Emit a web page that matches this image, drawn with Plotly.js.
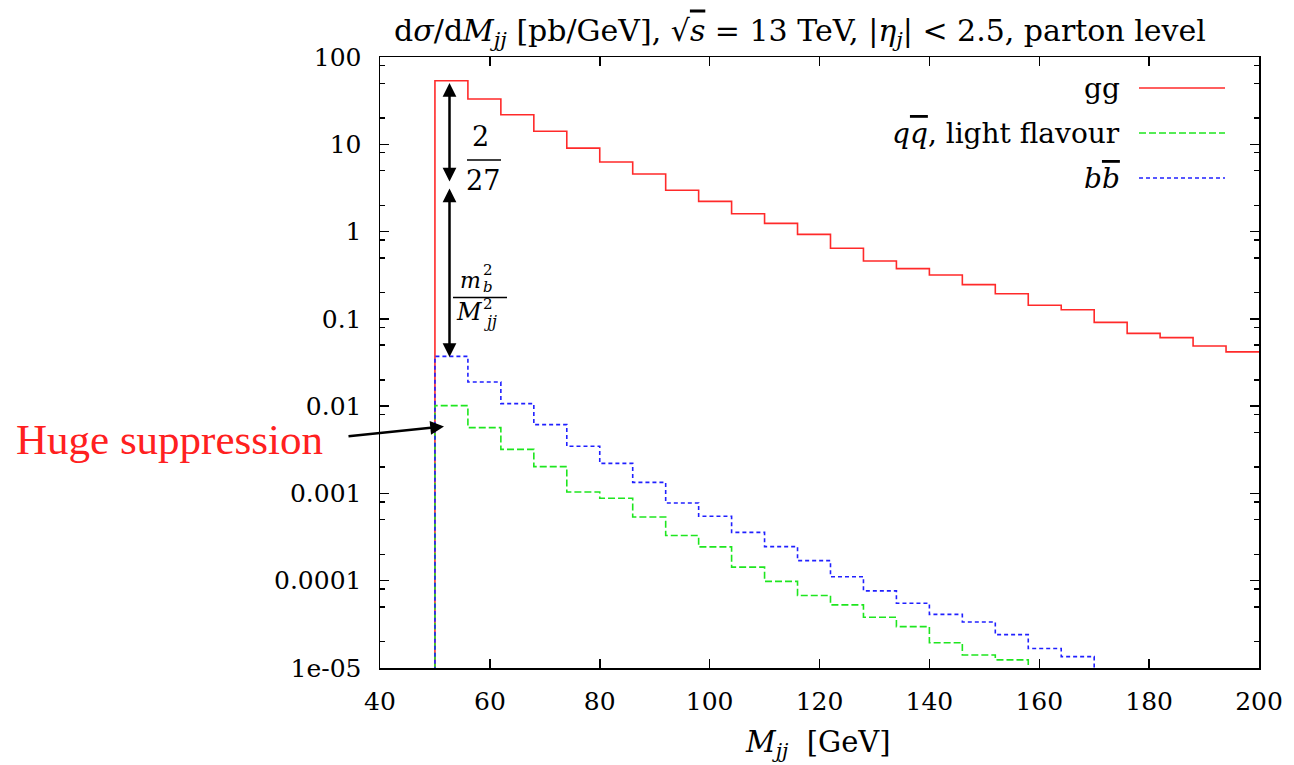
<!DOCTYPE html>
<html>
<head>
<meta charset="utf-8">
<script src="https://cdn.plot.ly/plotly-3.0.1.min.js"></script>
<style>html,body{margin:0;padding:0;background:#fff;}#chart{width:1294px;height:765px;}</style>
</head>
<body>
<div id="chart"></div>
<script>
// ---- data ----
const binEdges = [50,56,62,68,74,80,86,92,98,104,110,116,122,128,134,140,146,152,158,164,170,176,182,188,194,200];
const ggValues = [53.5,33,21.8,14.1,9.04,6.27,4.57,2.97,2.22,1.60,1.24,0.929,0.643,0.460,0.376,0.318,0.247,0.194,0.143,0.127,0.0912,0.0682,0.0609,0.0489,0.0418];
const qqValues = [0.01014,0.00568,0.0032,0.00203,0.00104,0.00088,0.000538,0.000329,0.000244,0.000143,9.84e-5,6.76e-5,5.28e-5,3.81e-5,2.98e-5,1.95e-5,1.41e-5,1.24e-5];
const bbValues = [0.0372,0.0189,0.0107,0.00614,0.00347,0.00221,0.00134,0.000778,0.000547,0.000358,0.000246,0.000170,0.000111,7.64e-5,5.51e-5,4.12e-5,3.37e-5,2.41e-5,1.67e-5,1.35e-5];
const seriesNames = ['gg', 'qq̅, light flavour', 'bb̅'];
const xTickVals = [40,60,80,100,120,140,160,180,200];
const yTickVals = [1e-5,1e-4,1e-3,1e-2,1e-1,1,10,100];
const yTickText = ['1e-05','0.0001','0.001','0.01','0.1','1','10','100'];

// ---- helpers ----
const FLOOR = 1e-8; // below visible range: histogram outline drops to the axis
function stepXY(vals){
  const x=[binEdges[0]], y=[FLOOR];
  for(let i=0;i<vals.length;i++){ x.push(binEdges[i], binEdges[i+1]); y.push(vals[i], vals[i]); }
  if(vals.length < binEdges.length-1){ x.push(binEdges[vals.length]); y.push(FLOOR); }
  return {x, y};
}
const L=380, R=35, T=57, B=97, W=1294, H=765;
const PW=W-L-R, PH=H-T-B;
const px = p => (p-L)/PW;
const py = p => (H-B-p)/PH;
const FONT = 'DejaVu Serif';
const TFONT = 'Liberation Serif';

const minorVals=[];
for(let e=-5;e<2;e++){ [2,5,8].forEach(m=>minorVals.push(m*Math.pow(10,e))); }

const RED='#ff2a2a', GREEN='#1ee61e', BLUE='#2020ff';
const gg = stepXY(ggValues), qq = stepXY(qqValues), bb = stepXY(bbValues);
const traces = [
  {x:gg.x, y:gg.y, mode:'lines', name:seriesNames[0], line:{color:RED, width:1.6}, showlegend:false},
  {x:qq.x, y:qq.y, mode:'lines', name:seriesNames[1], line:{color:GREEN, width:1.6, dash:'7px,3px'}, showlegend:false},
  {x:bb.x, y:bb.y, mode:'lines', name:seriesNames[2], line:{color:BLUE, width:1.6, dash:'4px,3px'}, showlegend:false}
];

const legendY=[88,133,178];
const legendColors=[RED,GREEN,BLUE];
const legendDash=['solid','7px,3px','4px,3px'];
const legendText=['gg','<i>q</i><span style="text-decoration:overline"><i>q</i></span>, light flavour','<i>b</i><span style="text-decoration:overline"><i>b</i></span>'];

const annotations=[];
const shapes=[];
function txt(x,y,text,size,opts){
  annotations.push(Object.assign({xref:'paper',yref:'paper',x:px(x),y:py(y),xanchor:'center',yanchor:'middle',showarrow:false,text:text,font:{family:FONT,size:size,color:'#000'}},opts||{}));
}
legendY.forEach((yy,i)=>{
  txt(1122,yy,legendText[i],28,{xanchor:'right'});
  shapes.push({type:'line',xref:'paper',yref:'paper',x0:px(1139),x1:px(1225),y0:py(yy),y1:py(yy),line:{color:legendColors[i],width:1.6,dash:legendDash[i]}});
});
// double arrows
annotations.push({xref:'paper',yref:'paper',x:px(449.5),y:py(83),ax:0,ay:100,text:'',showarrow:true,arrowhead:2,startarrowhead:2,arrowside:'end+start',arrowwidth:2.5,arrowsize:1.1,startarrowsize:1.1,arrowcolor:'#000'});
annotations.push({xref:'paper',yref:'paper',x:px(449.5),y:py(357),ax:0,ay:-170,text:'',showarrow:true,arrowhead:2,startarrowhead:2,arrowside:'end+start',arrowwidth:2.5,arrowsize:1.1,startarrowsize:1.1,arrowcolor:'#000'});
// fraction 2/27
txt(480,136,'2',27);
txt(483,180,'27',27);
shapes.push({type:'line',xref:'paper',yref:'paper',x0:px(467),x1:px(501),y0:py(160),y1:py(160),line:{color:'#000',width:1.5}});
// fraction m_b^2 / M_jj^2
txt(470,280,'<i>m</i>',22);
txt(488,270,'2',15);
txt(488,287,'<i>b</i>',15);
txt(469,312,'<i>M</i>',24);
txt(488,304,'2',15);
txt(490,321,'<i>jj</i>',16);
shapes.push({type:'line',xref:'paper',yref:'paper',x0:px(453),x1:px(507),y0:py(297.5),y1:py(297.5),line:{color:'#000',width:1.5}});
// Huge suppression
txt(14,440,'Huge suppression',43,{xanchor:'left',font:{family:TFONT,size:43,color:'#ff2020'}});
annotations.push({xref:'paper',yref:'paper',x:px(444),y:py(426.5),ax:-97,ay:10,text:'',showarrow:true,arrowhead:2,arrowwidth:2.5,arrowsize:1.1,arrowcolor:'#000'});
// x-axis title
txt(818,744,'<i>M</i><sub><i>jj</i></sub>  [GeV]',29);

const axisCommon = {showline:true, linecolor:'#000', linewidth:1.5, mirror:'allticks', ticks:'inside', ticklen:9, tickwidth:1.5, tickcolor:'#000', showgrid:false, zeroline:false, tickfont:{family:FONT,size:25,color:'#000'}};

const layout = {
  width:W, height:H,
  margin:{l:L, r:R, t:T, b:B},
  paper_bgcolor:'#fff', plot_bgcolor:'#fff',
  showlegend:false,
  title:{text:'d<i>σ</i>/d<i>M</i><sub><i>jj</i></sub> [pb/GeV], √<span style="text-decoration:overline"><i>s</i></span> = 13 TeV, |<i>η</i><sub><i>j</i></sub>| &lt; 2.5, parton level',
         font:{family:FONT,size:30,color:'#000'}, xref:'container', yref:'container', x:800/W, xanchor:'center', y:1-30/H, yanchor:'middle'},
  xaxis: Object.assign({}, axisCommon, {range:[40,200], tickmode:'array', tickvals:xTickVals, ticktext:xTickVals.map(String), ticklabelstandoff:10}),
  yaxis: Object.assign({}, axisCommon, {type:'log', range:[-5,2], tickmode:'array', tickvals:yTickVals, ticktext:yTickText, ticklabelstandoff:12,
          minor:{tickmode:'array', tickvals:minorVals, ticks:'inside', ticklen:5, tickwidth:1.5, tickcolor:'#000'}}),
  annotations, shapes
};

Plotly.newPlot('chart', traces, layout, {displayModeBar:false, staticPlot:true});
</script>
</body>
</html>
